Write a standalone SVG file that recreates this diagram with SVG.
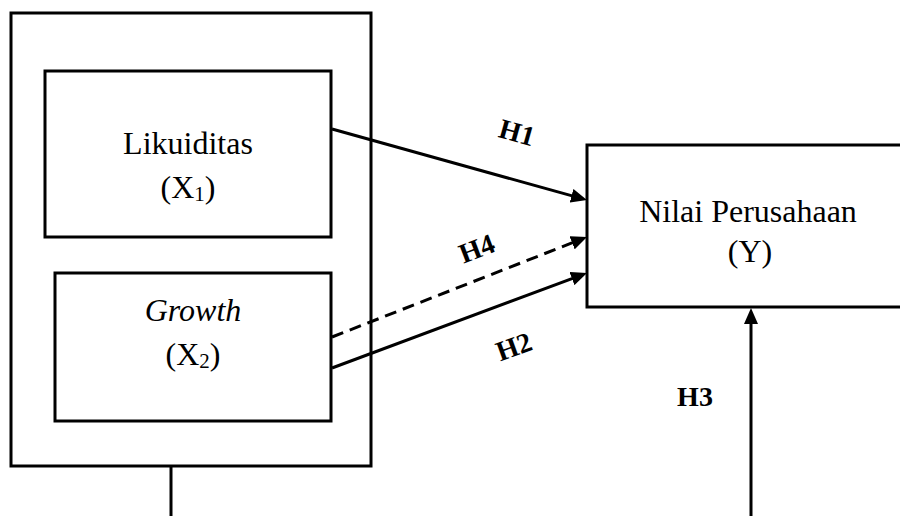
<svg xmlns="http://www.w3.org/2000/svg" width="900" height="516" viewBox="0 0 900 516">
<style>
.box{fill:#fff;stroke:#000;stroke-width:3}
.lbl{font-family:"Liberation Serif","Times New Roman",serif;font-size:32px;fill:#000;text-anchor:middle}
.h{font-family:"Liberation Serif","Times New Roman",serif;font-size:28px;font-weight:bold;fill:#000;text-anchor:middle}
.con{stroke:#000;stroke-width:3;fill:none}
.dash{stroke-dasharray:12 7}
</style>
<defs>
<marker id="arr" viewBox="0 0 16 14" refX="10" refY="7" markerWidth="16" markerHeight="14" markerUnits="userSpaceOnUse" orient="auto">
<path d="M0,0 L16,7 L0,14 z" fill="#000" stroke="none"/>
</marker>
</defs>
<rect width="900" height="516" fill="#fff"/>
<g id="group-x">
<rect class="box" x="11" y="13" width="360" height="453"/>
</g>
<g id="likuiditas">
<rect class="box" x="45" y="71" width="286" height="166"/>
<text class="lbl" x="188" y="154">Likuiditas</text>
<text class="lbl" x="188" y="198">(X<tspan font-size="21" dy="3">1</tspan><tspan dy="-3">)</tspan></text>
</g>
<g id="growth">
<rect class="box" x="55" y="273" width="276" height="148"/>
<text class="lbl" x="193" y="321" font-style="italic">Growth</text>
<text class="lbl" x="193" y="365">(X<tspan font-size="21" dy="3">2</tspan><tspan dy="-3">)</tspan></text>
</g>
<g id="nilai">
<rect class="box" x="587" y="145" width="320" height="162"/>
<text class="lbl" x="748" y="222">Nilai Perusahaan</text>
<text class="lbl" x="750" y="262">(Y)</text>
</g>
<g id="connectors">
<line class="con" x1="332" y1="129" x2="581.2" y2="198.4" marker-end="url(#arr)"/>
<line class="con dash" x1="332" y1="337" x2="581.4" y2="239.2" marker-end="url(#arr)"/>
<line class="con" x1="332" y1="368" x2="581.4" y2="275.1" marker-end="url(#arr)"/>
<line class="con" x1="751" y1="516" x2="751" y2="314" marker-end="url(#arr)"/>
<line class="con" x1="171" y1="466" x2="171" y2="516"/>
</g>
<g id="labels">
<text class="h" transform="translate(517,133) rotate(15.6)" y="9">H1</text>
<text class="h" transform="translate(477,249) rotate(-21)" y="9">H4</text>
<text class="h" transform="translate(514,347) rotate(-20)" y="9">H2</text>
<text class="h" x="695" y="406">H3</text>
</g>
</svg>
